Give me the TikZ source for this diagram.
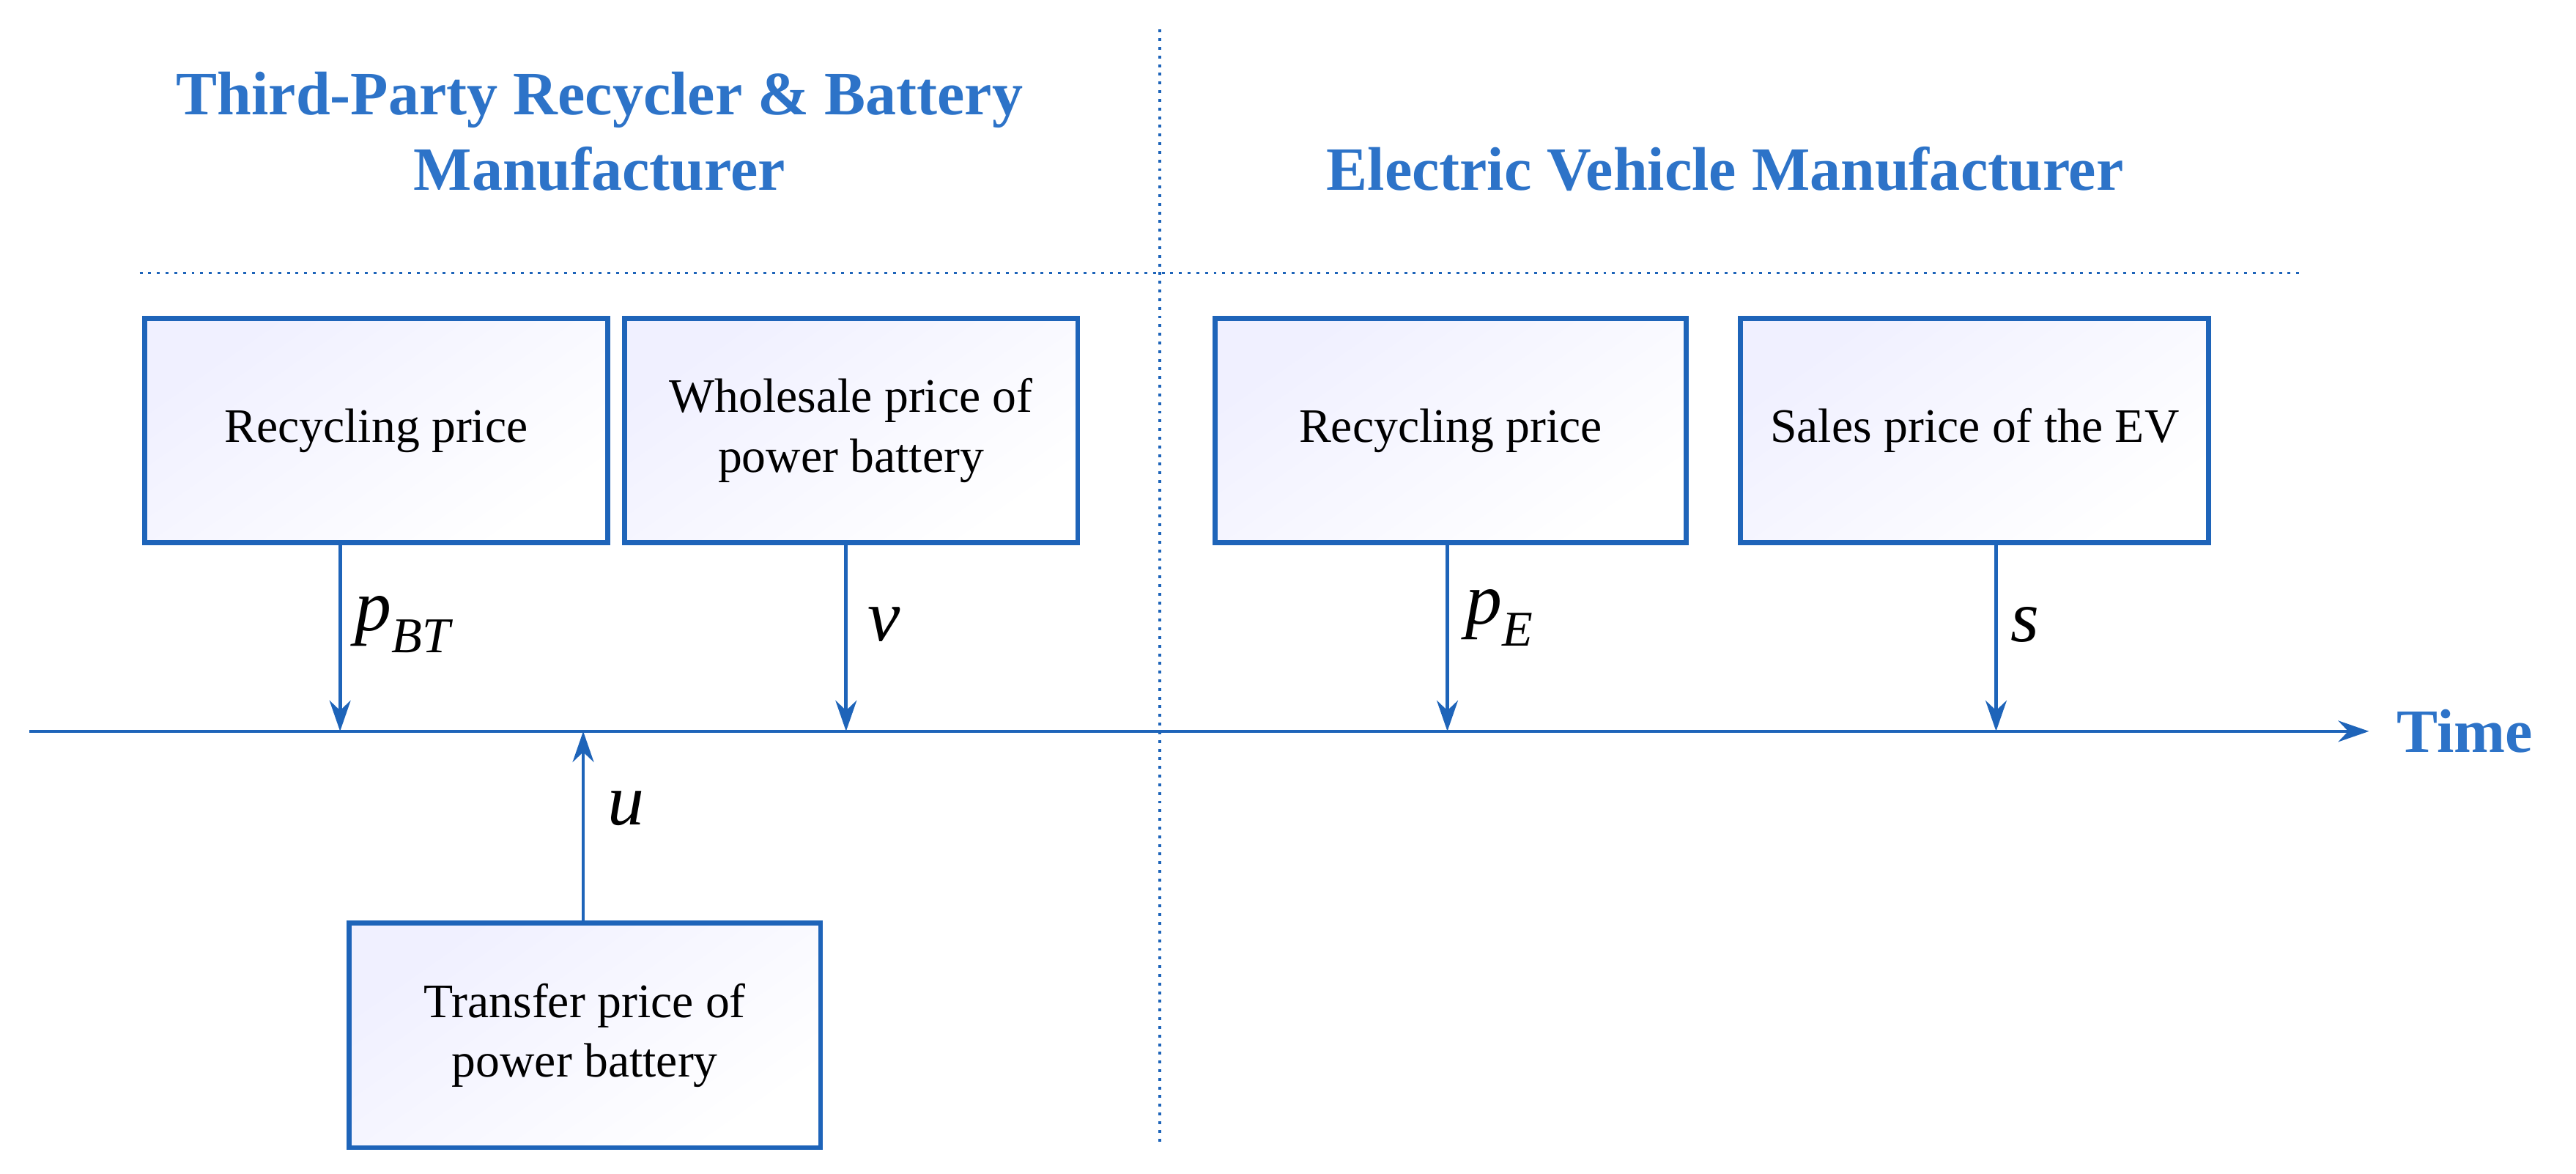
\documentclass[tikz,border=0pt]{standalone}
\usepackage{fontspec}
\setmainfont{Liberation Serif}
\usetikzlibrary{arrows.meta}
\definecolor{bl}{RGB}{30,100,185}
\definecolor{tb}{RGB}{45,115,200}
\newcommand{\myvar}[2]{\textit{#1}\raisebox{-0.3em}{\fontsize{26}{26}\selectfont\textit{#2}}}
\begin{document}
\begin{tikzpicture}[x=0.03cm,y=-0.03cm,
  box/.style={draw=bl,line width=2.6pt,minimum width=8.5cm,minimum height=4.1cm,align=center,
    font=\fontsize{25}{31}\selectfont,shading=axis,top color=blue!6,bottom color=white,shading angle=35},
  ttl/.style={text=tb,font=\fontsize{32}{39}\selectfont\bfseries,align=center},
  arr/.style={draw=bl,line width=1.8pt,-{Stealth[length=16pt,width=11pt]}},
  lab/.style={font=\fontsize{38}{38}\selectfont,anchor=west},
  dot/.style={draw=bl,line width=1.3pt,dash pattern=on 1.5pt off 3pt}]
\useasboundingbox (0,0) rectangle (1568,714);
\node[ttl] (t1) at (365,80) {Third-Party Recycler \& Battery\\Manufacturer};
\node[ttl] (t2) at (1050,103) {Electric Vehicle Manufacturer};
\coordinate (h1) at (85,166); \coordinate (h2) at (1400,166);
\coordinate (v1) at (706,18); \coordinate (v2) at (706,698);
\draw[dot] (h1) -- (h2);
\draw[dot] (v1) -- (v2);
\node[box,minimum width=8.46cm] (b1) at (229,262) {Recycling price};
\node[box,minimum width=8.28cm] (b2) at (518,262) {Wholesale price of\\power battery};
\node[box,minimum width=8.61cm] (b3) at (883,262) {Recycling price};
\node[box,minimum width=8.55cm] (b4) at (1202,262) {Sales price of the EV};
\node[box,minimum width=8.61cm] (b5) at (356,630) {Transfer price of\\power battery};
\coordinate (ax0) at (18,445); \coordinate (ax1) at (1442,445);
\draw[arr] (ax0) -- (ax1);
\node[ttl,anchor=west] (time) at (1455,445) {Time};
\coordinate (a1) at (207,445); \coordinate (a2) at (515,445);
\coordinate (a3) at (881,445); \coordinate (a4) at (1215,445);
\coordinate (a5) at (355,445);
\draw[arr] (b1.south -| a1) -- (a1);
\draw[arr] (b2.south -| a2) -- (a2);
\draw[arr] (b3.south -| a3) -- (a3);
\draw[arr] (b4.south -| a4) -- (a4);
\draw[arr] (b5.north -| a5) -- (a5);
\node[lab] (l1) at (212,380) {\myvar{p}{BT}};
\node[lab] (l2) at (524,380) {\textit{v}};
\node[lab] (l3) at (888,376) {\myvar{p}{E}};
\node[lab] (l4) at (1220,380) {\textit{s}};
\node[lab] (l5) at (366,492) {\textit{u}};
\end{tikzpicture}
\end{document}
